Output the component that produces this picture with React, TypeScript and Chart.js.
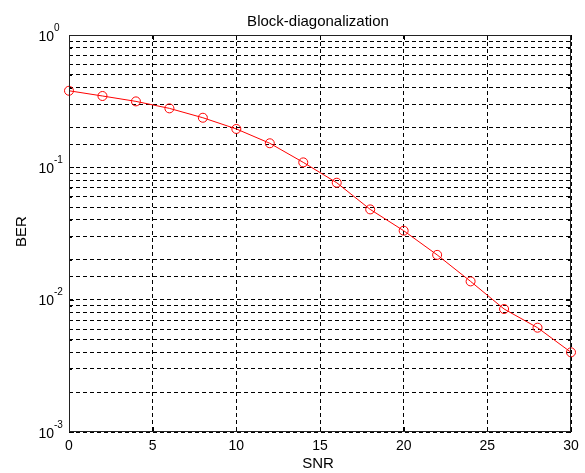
import { useEffect, useRef } from 'react';
import { Chart, registerables } from 'chart.js';

Chart.register(...registerables);

const TITLE = 'Block-diagonalization';
const X_LABEL = 'SNR';
const Y_LABEL = 'BER';

const SNR = [0, 2, 4, 6, 8, 10, 12, 14, 16, 18, 20, 22, 24, 26, 28, 30];
const BER = [
  0.379, 0.346, 0.315, 0.279, 0.237, 0.195, 0.152, 0.109, 0.0765, 0.0481, 0.0332, 0.0218, 0.01374,
  0.0085, 0.00614, 0.004,
];

const X_TICKS = [0, 5, 10, 15, 20, 25, 30];
const Y_TICKS = [1, 0.1, 0.01, 0.001];
const Y_TICK_EXPONENTS = ['0', '-1', '-2', '-3'];

const FONT = '"Liberation Sans", Arial, sans-serif';

const matlabPlugin = {
  id: 'matlabDecor',
  afterDraw(chart: any) {
    const { ctx, chartArea: a, scales } = chart;
    const xs = scales.x;
    const ys = scales.y;
    ctx.save();
    ctx.setLineDash([]);
    ctx.strokeStyle = '#000';
    ctx.lineWidth = 1;

    // inner tick marks
    ctx.beginPath();
    ys.ticks.forEach((t: any) => {
      const lg = Math.log10(t.value);
      const major = Math.abs(lg - Math.round(lg)) < 1e-9;
      const len = major ? 5 : 3;
      const y = Math.round(ys.getPixelForValue(t.value)) + 0.5;
      ctx.moveTo(a.left, y);
      ctx.lineTo(a.left + len, y);
      ctx.moveTo(a.right, y);
      ctx.lineTo(a.right - len, y);
    });
    X_TICKS.forEach((v) => {
      const x = Math.round(xs.getPixelForValue(v)) + 0.5;
      ctx.moveTo(x, a.top);
      ctx.lineTo(x, a.top + 5);
      ctx.moveTo(x, a.bottom);
      ctx.lineTo(x, a.bottom - 5);
    });
    ctx.stroke();

    // box
    ctx.strokeStyle = '#222';
    ctx.strokeRect(a.left + 0.5, a.top + 0.5, a.right - a.left - 1, a.bottom - a.top - 1);

    ctx.fillStyle = '#000';
    // x tick labels
    ctx.font = `14px ${FONT}`;
    ctx.textAlign = 'center';
    ctx.textBaseline = 'alphabetic';
    X_TICKS.forEach((v) => {
      ctx.fillText(String(v), xs.getPixelForValue(v), a.bottom + 18);
    });

    // y tick labels 10^n
    Y_TICKS.forEach((v, i) => {
      const y = ys.getPixelForValue(v);
      ctx.font = `14px ${FONT}`;
      ctx.textAlign = 'right';
      ctx.fillText('10', a.left - 15, y + 5.5);
      ctx.font = `10px ${FONT}`;
      ctx.textAlign = 'left';
      ctx.fillText(Y_TICK_EXPONENTS[i], a.left - 15, y - 4.5);
    });

    // title
    ctx.font = `15px ${FONT}`;
    ctx.textAlign = 'center';
    ctx.fillText(TITLE, (a.left + a.right) / 2 - 2, 26);

    // x label
    ctx.fillText(X_LABEL, (a.left + a.right) / 2 - 2, 468);

    // y label
    ctx.save();
    ctx.translate(26, (a.top + a.bottom) / 2 - 2);
    ctx.rotate(-Math.PI / 2);
    ctx.textAlign = 'center';
    ctx.fillText(Y_LABEL, 0, 0);
    ctx.restore();

    ctx.restore();
  },
};

export default function App() {
  const ref = useRef<HTMLCanvasElement | null>(null);

  useEffect(() => {
    document.body.style.margin = '0';
    const canvas = ref.current;
    if (!canvas) return;
    const chart = new Chart(canvas, {
      type: 'line',
      data: {
        datasets: [
          {
            data: SNR.map((x, i) => ({ x, y: BER[i] })),
            borderColor: '#ff0000',
            borderWidth: 1,
            pointStyle: 'circle',
            pointRadius: 4.5,
            pointBorderColor: '#ff0000',
            pointBackgroundColor: 'rgba(0,0,0,0)',
            pointBorderWidth: 1,
            tension: 0,
            clip: false as any,
          },
        ],
      },
      options: {
        animation: false,
        responsive: false,
        devicePixelRatio: 1,
        layout: { padding: { left: 69, right: 14, top: 35, bottom: 41 } },
        plugins: {
          legend: { display: false },
          title: { display: false },
          tooltip: { enabled: false },
        },
        scales: {
          x: {
            type: 'linear',
            min: 0,
            max: 30,
            ticks: { display: false, stepSize: 5, autoSkip: false },
            grid: { color: '#000', lineWidth: 1, drawTicks: false },
            border: { display: false, dash: [4, 3] },
            afterFit: (s: any) => {
              s.height = 0;
            },
          },
          y: {
            type: 'logarithmic',
            min: 0.001,
            max: 1,
            ticks: { display: false, autoSkip: false },
            grid: { color: '#000', lineWidth: 1, drawTicks: false },
            border: { display: false, dash: [4, 3] },
            afterFit: (s: any) => {
              s.width = 0;
            },
          },
        },
      },
      plugins: [matlabPlugin],
    });
    return () => chart.destroy();
  }, []);

  return (
    <div style={{ width: 585, height: 473, background: '#fff' }}>
      <canvas ref={ref} width={585} height={473} style={{ display: 'block' }} />
    </div>
  );
}
